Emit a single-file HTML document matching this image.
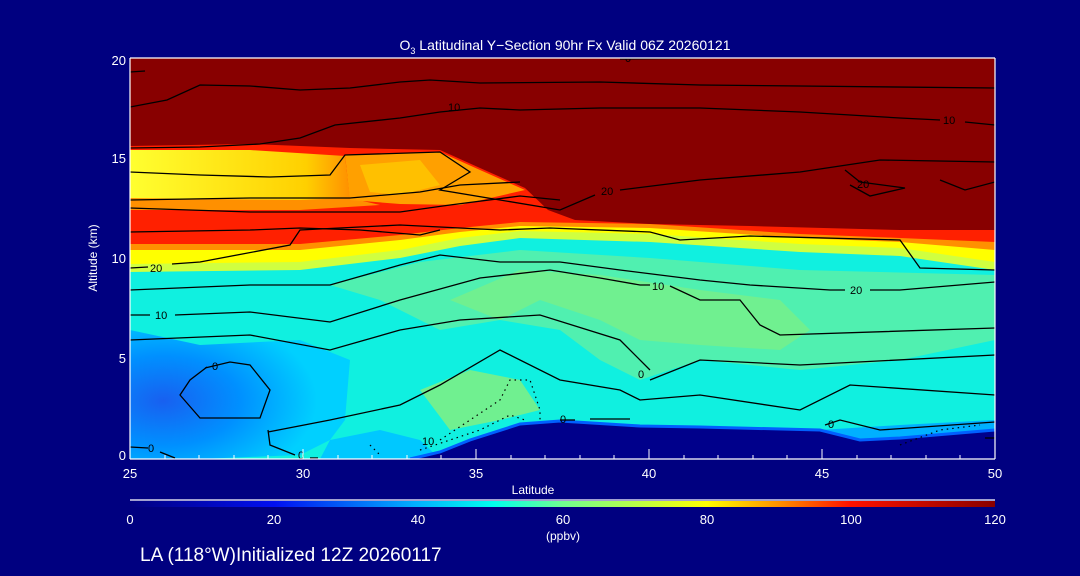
<!DOCTYPE html>
<html><head><meta charset="utf-8"><style>
body{margin:0;background:#000080;}
svg{display:block;font-family:"Liberation Sans",sans-serif;}
</style></head><body>
<svg width="1080" height="576" viewBox="0 0 1080 576" xmlns="http://www.w3.org/2000/svg">
<defs>
<linearGradient id="cb" x1="0" x2="1" y1="0" y2="0">
<stop offset="0" stop-color="#000080"/>
<stop offset="0.167" stop-color="#0010f0"/>
<stop offset="0.33" stop-color="#00b0ff"/>
<stop offset="0.42" stop-color="#00ffee"/>
<stop offset="0.5" stop-color="#70ff90"/>
<stop offset="0.667" stop-color="#ffff00"/>
<stop offset="0.75" stop-color="#ff9000"/>
<stop offset="0.833" stop-color="#ff1000"/>
<stop offset="1" stop-color="#880000"/>
</linearGradient>
<radialGradient id="bl" cx="0.15" cy="0.55" r="0.7">
<stop offset="0" stop-color="#1860f0"/>
<stop offset="0.5" stop-color="#0090ff"/>
<stop offset="1" stop-color="#00d0ff"/>
</radialGradient>
<linearGradient id="yb" x1="0" x2="1"><stop offset="0" stop-color="#ffff30"/><stop offset="0.8" stop-color="#ffd000"/><stop offset="1" stop-color="#ff9000"/></linearGradient>
<clipPath id="pc"><rect x="130" y="58" width="865" height="401"/></clipPath>
</defs>
<g clip-path="url(#pc)">
<rect x="130" y="58" width="865" height="401" fill="#10f0e0"/>
<polygon fill="#50f0b0" points="330,285 420,262 520,250 650,258 800,270 995,275 995,340 900,360 800,370 700,360 640,380 600,360 560,330 500,320 440,330 380,300"/>
<polygon fill="#70f090" points="450,300 520,270 600,275 700,290 780,300 810,330 780,350 700,345 640,340 600,320 540,300 500,320"/>
<polygon fill="#70f090" points="420,390 470,370 520,380 540,410 500,420 450,430"/>
<polygon fill="url(#bl)" points="130,330 200,345 300,340 350,360 345,420 330,440 300,455 200,459 130,459"/>
<polygon fill="#00c8ff" points="330,440 380,430 420,440 440,459 320,459"/>
<polygon fill="#00b0ff" points="820,430 900,425 995,420 995,440 880,445"/>
<polygon fill="#00008b" points="410,459 440,452 470,440 520,424 560,421 640,426 700,427 820,430 860,440 900,438 995,430 995,459"/>
<polyline fill="none" stroke="#0060ff" stroke-width="3" points="410,459 440,452 470,440 520,424 560,421 640,426 700,427 820,430 860,440 900,438 995,430"/>
<polygon fill="#d0ff40" points="130,272 300,270 400,258 460,246 520,238 650,242 800,252 900,256 995,270 995,58 130,58"/>
<polygon fill="#ffff00" points="130,264 300,262 400,250 460,238 520,231 650,234 800,244 900,248 995,262 995,58 130,58"/>
<polygon fill="#ff9000" points="130,250 300,250 400,240 460,232 520,226 650,228 800,238 900,242 995,250 995,58 130,58"/>
<polygon fill="#ff2000" points="130,244 300,244 400,235 460,228 520,222 650,224 800,234 900,238 995,242 995,58 130,58"/>
<polygon fill="url(#yb)" points="130,150 250,150 345,156 350,198 300,202 200,205 130,200"/>
<polygon fill="#ff9000" points="130,198 300,200 350,198 380,205 300,210 130,210"/>
<polygon fill="#ffa000" points="345,155 440,152 480,170 525,190 460,205 400,204 350,200"/>
<polygon fill="#ffc000" points="360,165 420,160 440,185 400,195 370,192"/>
<polygon fill="#880000" points="130,146 250,144 350,148 440,150 480,168 525,188 548,210 575,220 650,224 750,226 900,230 995,230 995,58 130,58"/>
<g fill="none" stroke="#000" stroke-width="1.3">
<polyline points="130,72 145,71"/>
<polyline points="620,59 700,58"/>
<polyline points="130,107 167,100 200,85 250,86 300,90 350,88 400,82 430,80 480,83 600,82 700,85 800,86 995,88"/>
<polyline points="130,148 200,147 260,144 300,138 335,125 400,118 440,112 480,108 520,110 600,108 700,108 800,112 900,118 940,120"/>
<polyline points="965,122 995,125"/>
<polyline points="130,172 200,175 270,177 330,175 345,155 440,152 470,172 440,190 500,200 560,210 595,195"/>
<polyline points="620,190 700,180 800,172 880,160 995,162"/>
<polyline points="845,170 860,182 905,188 870,196 850,185"/>
<polyline points="940,180 965,190 995,182"/>
<polyline points="130,200 250,198 350,198 420,192 460,185 520,182"/>
<polyline points="130,208 250,212 400,212 450,205 520,196 560,200"/>
<polyline points="130,232 250,230 300,228 360,230 420,235 440,230"/>
<polyline points="130,268 148,267"/>
<polyline points="172,264 200,262 290,245 300,230 400,225 500,230 550,228 650,232 680,240 750,236 900,240 920,268 995,270"/>
<polyline points="130,290 250,285 330,285 400,265 440,255 500,262 560,262 620,270 700,280 750,285 830,290 845,290"/>
<polyline points="870,290 900,290 995,282"/>
<polyline points="130,315 150,315"/>
<polyline points="175,315 250,312 330,322 400,300 480,278 550,270 600,278 640,285 650,285"/>
<polyline points="670,286 700,300 740,300 760,325 780,335 995,328"/>
<polyline points="130,340 250,335 330,350 400,330 460,320 540,315 620,340 650,370"/>
<polyline points="650,380 700,360 800,365 995,355"/>
<polyline points="205,368 230,362 250,365 270,390 260,418 200,418 180,395 190,380 207,367"/>
<polyline points="268,430 270,445 295,455"/>
<polyline points="268,432 330,420 400,405 440,385 500,350 560,380 620,390 640,400 700,395 800,410 850,385 995,395"/>
<polyline points="130,447 148,448"/>
<polyline points="160,452 175,458"/>
<polyline points="310,458 318,458"/>
<polyline points="560,420 575,420"/>
<polyline points="590,419 630,419"/>
<polyline points="825,425 840,420 880,430 995,422"/>
<polyline points="995,438 985,438"/>
</g>
<g fill="none" stroke="#000" stroke-width="1.2" stroke-dasharray="1.5,4">
<polyline points="440,440 470,420 500,400 510,380 530,380 540,410 540,420"/>
<polyline points="420,450 480,430 510,415 525,420"/>
<polyline points="370,445 380,455"/>
<polyline points="900,445 940,430 980,425"/>
</g>
<g font-size="11" fill="#000">
<text x="448" y="111">10</text><text x="943" y="124">10</text>
<text x="601" y="195">20</text><text x="857" y="188">20</text>
<text x="150" y="272">20</text><text x="850" y="294">20</text>
<text x="155" y="319">10</text><text x="652" y="290">10</text>
<text x="212" y="370">0</text><text x="638" y="378">0</text>
<text x="148" y="452">0</text><text x="298" y="459">0</text>
<text x="560" y="423">0</text><text x="828" y="428">0</text>
<text x="422" y="445">10</text><text x="625" y="62">0</text>
</g>
</g>
<g stroke="#fff" stroke-width="1.2" fill="none">
<line x1="130" y1="58" x2="995" y2="58"/>
<line x1="130" y1="459" x2="995" y2="459"/>
<line x1="130" y1="58" x2="130" y2="459"/>
<line x1="995" y1="58" x2="995" y2="459"/>
<line x1="130" y1="500" x2="995" y2="500"/>
</g>
<g stroke="#fff" stroke-width="1">
<line x1="303" y1="459" x2="303" y2="449"/><line x1="476" y1="459" x2="476" y2="449"/>
<line x1="649" y1="459" x2="649" y2="449"/><line x1="822" y1="459" x2="822" y2="449"/>
<line x1="165" y1="459" x2="165" y2="455"/><line x1="199" y1="459" x2="199" y2="455"/>
<line x1="234" y1="459" x2="234" y2="455"/><line x1="268" y1="459" x2="268" y2="455"/>
<line x1="338" y1="459" x2="338" y2="455"/><line x1="372" y1="459" x2="372" y2="455"/>
<line x1="407" y1="459" x2="407" y2="455"/><line x1="441" y1="459" x2="441" y2="455"/>
<line x1="511" y1="459" x2="511" y2="455"/><line x1="545" y1="459" x2="545" y2="455"/>
<line x1="580" y1="459" x2="580" y2="455"/><line x1="614" y1="459" x2="614" y2="455"/>
<line x1="684" y1="459" x2="684" y2="455"/><line x1="718" y1="459" x2="718" y2="455"/>
<line x1="753" y1="459" x2="753" y2="455"/><line x1="787" y1="459" x2="787" y2="455"/>
<line x1="857" y1="459" x2="857" y2="455"/><line x1="891" y1="459" x2="891" y2="455"/>
<line x1="926" y1="459" x2="926" y2="455"/><line x1="960" y1="459" x2="960" y2="455"/>
</g>
<rect x="130" y="501" width="865" height="6" fill="url(#cb)"/>
<g fill="#fff" font-size="13">
<text x="565" y="50" text-anchor="middle" font-size="14">O<tspan font-size="9" dy="4">3</tspan><tspan dy="-4"> Latitudinal Y−Section 90hr  Fx Valid 06Z 20260121</tspan></text>
<text x="126" y="65" text-anchor="end">20</text>
<text x="126" y="163" text-anchor="end">15</text>
<text x="126" y="263" text-anchor="end">10</text>
<text x="126" y="363" text-anchor="end">5</text>
<text x="126" y="460" text-anchor="end">0</text>
<text x="130" y="478" text-anchor="middle">25</text>
<text x="303" y="478" text-anchor="middle">30</text>
<text x="476" y="478" text-anchor="middle">35</text>
<text x="649" y="478" text-anchor="middle">40</text>
<text x="822" y="478" text-anchor="middle">45</text>
<text x="995" y="478" text-anchor="middle">50</text>
<text x="533" y="494" text-anchor="middle" font-size="12">Latitude</text>
<text transform="translate(97,258) rotate(-90)" text-anchor="middle" font-size="12">Altitude (km)</text>
<text x="130" y="524" text-anchor="middle">0</text>
<text x="274" y="524" text-anchor="middle">20</text>
<text x="418" y="524" text-anchor="middle">40</text>
<text x="563" y="524" text-anchor="middle">60</text>
<text x="707" y="524" text-anchor="middle">80</text>
<text x="851" y="524" text-anchor="middle">100</text>
<text x="995" y="524" text-anchor="middle">120</text>
<text x="563" y="540" text-anchor="middle" font-size="12">(ppbv)</text>
<text x="140" y="561" font-size="19">LA (118°W)Initialized 12Z 20260117</text>
</g>
</svg>
</body></html>
